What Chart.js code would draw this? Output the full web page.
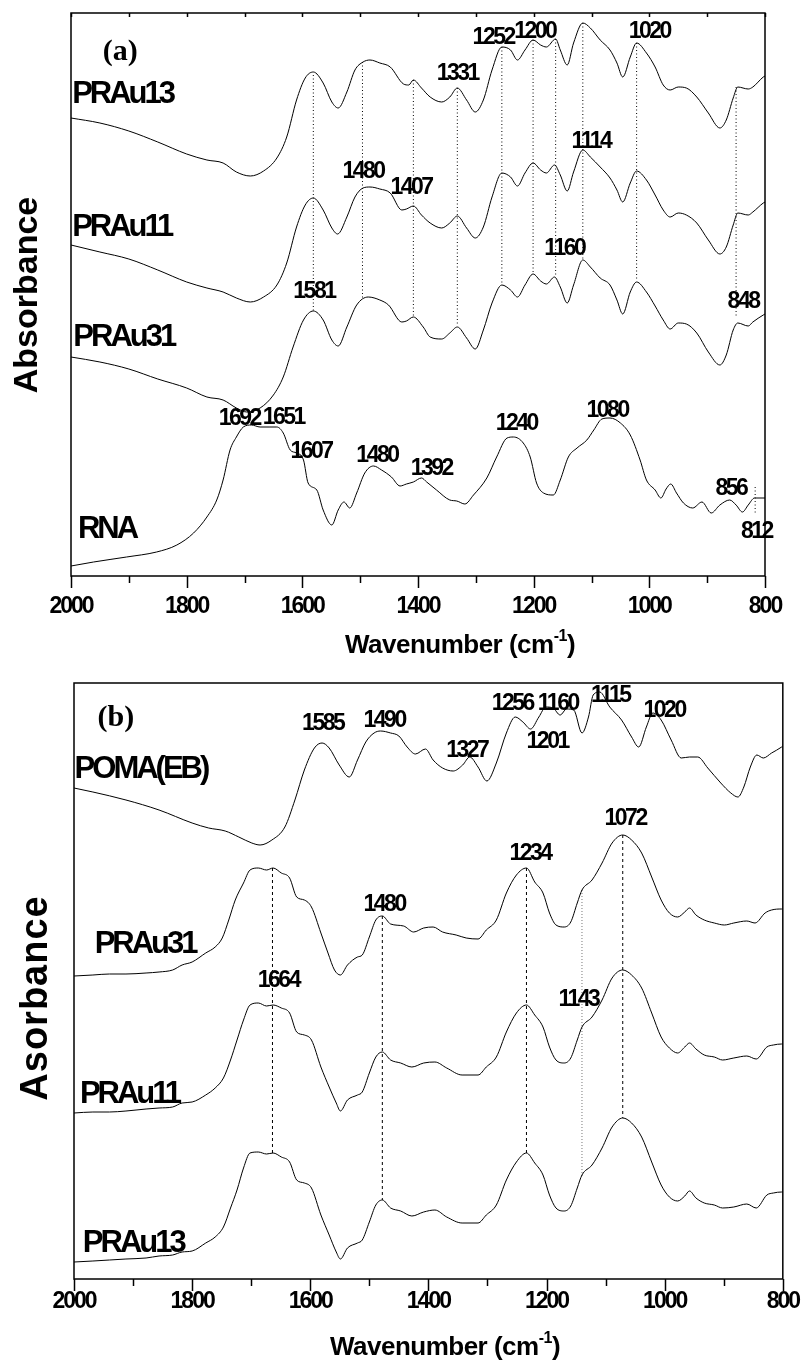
<!DOCTYPE html>
<html>
<head>
<meta charset="utf-8">
<script src="https://cdn.jsdelivr.net/npm/chart.js@4.4.0/dist/chart.umd.min.js"></script>
<style>
  html, body { margin: 0; padding: 0; background: #fff; }
  #boxA { position: absolute; left: 0; top: 0; width: 811px; height: 680px; }
  #boxB { position: absolute; left: 0; top: 680px; width: 811px; height: 684px; }
</style>
</head>
<body>
<div id="boxA"><canvas id="chartA" width="811" height="680"></canvas></div>
<div id="boxB"><canvas id="chartB" width="811" height="684"></canvas></div>
<script>
const FONT = '"Liberation Sans", Arial, Helvetica, sans-serif'
const SERIF = '"Liberation Serif", "Times New Roman", serif'

const wnTicks = [2000, 1800, 1600, 1400, 1200, 1000, 800]

// (a) spectra: [wavenumber, absorbance (a.u., stacked)]
const praU13A = [[2000,4.58],[1950,4.53],[1900,4.45],[1850,4.34],[1800,4.22],[1765,4.16],[1737,4.13],[1714,4.04],[1690,4.00],[1667,4.05],[1644,4.18],[1627,4.39],[1610,4.76],[1595,4.98],[1581,5.04],[1564,4.93],[1549,4.74],[1538,4.68],[1523,4.84],[1509,5.06],[1495,5.14],[1483,5.16],[1466,5.13],[1448,5.09],[1425,4.92],[1416,4.91],[1408,4.96],[1394,4.88],[1379,4.79],[1359,4.74],[1345,4.79],[1332,4.88],[1316,4.76],[1301,4.64],[1287,4.76],[1272,5.06],[1255,5.29],[1240,5.26],[1228,5.16],[1215,5.26],[1201,5.36],[1188,5.31],[1178,5.29],[1162,5.37],[1154,5.26],[1142,5.11],[1131,5.33],[1115,5.53],[1102,5.48],[1085,5.36],[1068,5.26],[1056,5.13],[1046,4.99],[1033,5.19],[1022,5.33],[1005,5.23],[990,5.09],[976,4.91],[964,4.86],[950,4.89],[936,4.88],[918,4.79],[898,4.63],[878,4.48],[867,4.56],[855,4.78],[847,4.89],[829,4.87],[821,4.89],[803,4.99],[800,5.00]]
const praU11A = [[2000,3.31],[1950,3.24],[1900,3.17],[1850,3.06],[1800,2.94],[1765,2.88],[1737,2.84],[1714,2.78],[1690,2.74],[1667,2.79],[1644,2.91],[1627,3.13],[1610,3.49],[1595,3.71],[1581,3.78],[1564,3.66],[1549,3.48],[1539,3.42],[1523,3.59],[1509,3.79],[1495,3.88],[1483,3.89],[1466,3.87],[1448,3.83],[1428,3.66],[1420,3.67],[1408,3.70],[1394,3.61],[1379,3.53],[1359,3.48],[1345,3.53],[1332,3.60],[1316,3.48],[1301,3.38],[1287,3.49],[1272,3.79],[1255,4.03],[1240,3.99],[1228,3.90],[1215,4.03],[1201,4.13],[1188,4.06],[1178,4.03],[1164,4.11],[1154,4.01],[1142,3.85],[1131,4.04],[1115,4.26],[1102,4.19],[1085,4.09],[1068,3.98],[1056,3.86],[1046,3.74],[1033,3.93],[1022,4.05],[1005,3.96],[990,3.81],[976,3.66],[964,3.59],[950,3.63],[936,3.61],[918,3.53],[898,3.36],[878,3.22],[867,3.29],[855,3.51],[847,3.63],[829,3.61],[821,3.64],[803,3.73],[800,3.74]]
const praU31A = [[2000,2.19],[1950,2.14],[1900,2.07],[1850,1.97],[1800,1.88],[1765,1.79],[1737,1.76],[1714,1.68],[1696,1.64],[1673,1.68],[1650,1.81],[1633,1.99],[1616,2.29],[1598,2.56],[1581,2.65],[1564,2.56],[1549,2.36],[1538,2.30],[1523,2.49],[1506,2.71],[1486,2.79],[1466,2.76],[1451,2.71],[1428,2.54],[1420,2.55],[1408,2.59],[1391,2.49],[1379,2.39],[1359,2.37],[1345,2.43],[1332,2.49],[1316,2.38],[1301,2.27],[1287,2.46],[1272,2.73],[1255,2.91],[1240,2.86],[1228,2.79],[1215,2.91],[1201,3.02],[1188,2.95],[1178,2.92],[1164,2.99],[1154,2.89],[1142,2.73],[1131,2.91],[1115,3.16],[1102,3.09],[1085,2.98],[1068,2.91],[1056,2.76],[1046,2.62],[1033,2.84],[1022,2.94],[1005,2.84],[990,2.70],[976,2.56],[964,2.47],[950,2.53],[936,2.52],[918,2.43],[898,2.24],[878,2.11],[867,2.21],[855,2.46],[847,2.53],[829,2.50],[821,2.54],[803,2.61],[800,2.62]]
const rnaA = [[2000,0.10],[1961,0.14],[1904,0.19],[1852,0.24],[1817,0.31],[1788,0.43],[1765,0.59],[1748,0.76],[1737,0.96],[1725,1.26],[1714,1.39],[1702,1.49],[1688,1.51],[1673,1.49],[1656,1.49],[1644,1.49],[1633,1.43],[1621,1.26],[1610,1.23],[1598,1.16],[1590,0.93],[1575,0.86],[1564,0.66],[1549,0.51],[1538,0.66],[1528,0.74],[1518,0.68],[1506,0.83],[1492,1.03],[1477,1.10],[1463,1.06],[1446,0.99],[1431,0.90],[1420,0.92],[1408,0.94],[1394,0.98],[1385,0.94],[1368,0.86],[1345,0.76],[1333,0.75],[1319,0.72],[1304,0.81],[1281,0.98],[1264,1.19],[1246,1.38],[1235,1.39],[1218,1.33],[1206,1.19],[1195,0.93],[1183,0.83],[1166,0.81],[1154,0.96],[1140,1.19],[1125,1.28],[1108,1.36],[1096,1.46],[1082,1.57],[1068,1.58],[1050,1.53],[1033,1.41],[1016,1.16],[1005,0.96],[990,0.86],[980,0.78],[971,0.87],[963,0.92],[953,0.83],[941,0.73],[925,0.68],[909,0.74],[893,0.63],[878,0.71],[861,0.76],[850,0.71],[839,0.64],[829,0.71],[818,0.78],[800,0.78]]

// (b) spectra
const pomaB = [[2000,4.91],[1968,4.87],[1912,4.79],[1856,4.69],[1800,4.56],[1772,4.51],[1744,4.48],[1721,4.42],[1699,4.36],[1685,4.34],[1665,4.39],[1643,4.52],[1626,4.79],[1610,5.09],[1593,5.31],[1580,5.36],[1568,5.31],[1551,5.14],[1534,5.02],[1520,5.19],[1506,5.37],[1492,5.46],[1481,5.48],[1464,5.46],[1450,5.43],[1436,5.32],[1422,5.25],[1405,5.30],[1392,5.19],[1376,5.11],[1358,5.08],[1342,5.14],[1330,5.22],[1316,5.12],[1301,4.98],[1285,5.16],[1268,5.46],[1253,5.62],[1240,5.57],[1227,5.50],[1213,5.62],[1201,5.72],[1189,5.71],[1177,5.64],[1166,5.70],[1154,5.69],[1140,5.46],[1129,5.62],[1121,5.84],[1110,5.87],[1093,5.72],[1073,5.59],[1056,5.42],[1044,5.32],[1031,5.52],[1020,5.66],[1006,5.59],[989,5.39],[972,5.21],[958,5.22],[944,5.22],[927,5.11],[905,4.96],[888,4.86],[876,4.82],[866,4.92],[855,5.12],[844,5.24],[833,5.21],[819,5.26],[802,5.32],[800,5.33]]
const praU31B = [[2000,3.03],[1968,3.04],[1940,3.05],[1912,3.05],[1878,3.06],[1856,3.07],[1833,3.09],[1817,3.14],[1800,3.17],[1777,3.26],[1761,3.32],[1749,3.41],[1738,3.59],[1727,3.79],[1713,3.96],[1702,4.09],[1688,4.11],[1674,4.09],[1663,4.11],[1649,4.06],[1635,4.01],[1623,3.82],[1610,3.79],[1598,3.72],[1582,3.46],[1570,3.26],[1559,3.09],[1549,3.04],[1537,3.14],[1520,3.22],[1512,3.24],[1500,3.42],[1489,3.59],[1478,3.63],[1464,3.55],[1442,3.53],[1425,3.47],[1408,3.51],[1392,3.52],[1376,3.47],[1353,3.44],[1336,3.41],[1316,3.40],[1302,3.49],[1285,3.59],[1268,3.86],[1251,4.04],[1234,4.11],[1220,3.97],[1206,3.86],[1195,3.66],[1184,3.54],[1170,3.52],[1159,3.57],[1148,3.76],[1140,3.89],[1123,3.99],[1106,4.16],[1089,4.36],[1071,4.44],[1056,4.39],[1039,4.26],[1022,4.02],[1006,3.79],[992,3.66],[978,3.62],[966,3.67],[958,3.71],[947,3.64],[933,3.59],[916,3.56],[899,3.54],[883,3.56],[861,3.58],[847,3.56],[830,3.66],[819,3.69],[802,3.70],[800,3.70]]
const praU11B = [[2000,1.66],[1968,1.67],[1940,1.67],[1912,1.68],[1878,1.70],[1856,1.71],[1833,1.72],[1817,1.76],[1800,1.77],[1777,1.84],[1761,1.91],[1747,2.01],[1735,2.19],[1724,2.39],[1713,2.59],[1702,2.74],[1688,2.76],[1674,2.73],[1663,2.74],[1649,2.71],[1635,2.66],[1623,2.47],[1610,2.44],[1598,2.39],[1582,2.12],[1568,1.92],[1556,1.76],[1549,1.68],[1537,1.79],[1520,1.84],[1512,1.87],[1500,2.06],[1489,2.22],[1478,2.27],[1464,2.19],[1447,2.16],[1428,2.12],[1408,2.16],[1389,2.17],[1369,2.11],[1343,2.04],[1316,2.04],[1302,2.12],[1285,2.22],[1268,2.47],[1251,2.66],[1234,2.74],[1220,2.64],[1206,2.52],[1195,2.32],[1184,2.19],[1170,2.16],[1159,2.21],[1148,2.39],[1140,2.52],[1123,2.62],[1106,2.79],[1089,3.01],[1071,3.09],[1056,3.04],[1039,2.91],[1022,2.66],[1006,2.42],[992,2.31],[978,2.26],[966,2.32],[958,2.36],[947,2.30],[933,2.24],[916,2.22],[902,2.19],[883,2.21],[861,2.23],[845,2.20],[827,2.32],[816,2.34],[802,2.35],[800,2.35]]
const praU13B = [[2000,0.17],[1968,0.18],[1940,0.19],[1912,0.20],[1878,0.21],[1856,0.23],[1833,0.24],[1817,0.27],[1800,0.28],[1777,0.36],[1761,0.42],[1747,0.52],[1735,0.71],[1724,0.89],[1713,1.11],[1702,1.26],[1688,1.27],[1674,1.25],[1663,1.26],[1649,1.22],[1635,1.17],[1623,0.99],[1610,0.96],[1598,0.91],[1582,0.64],[1568,0.44],[1556,0.27],[1549,0.20],[1537,0.31],[1520,0.36],[1512,0.39],[1500,0.57],[1489,0.74],[1478,0.79],[1464,0.71],[1447,0.68],[1428,0.63],[1408,0.67],[1389,0.69],[1369,0.62],[1343,0.56],[1316,0.56],[1302,0.64],[1285,0.74],[1268,0.99],[1251,1.17],[1234,1.26],[1220,1.16],[1206,1.04],[1195,0.84],[1184,0.71],[1170,0.68],[1159,0.73],[1148,0.91],[1140,1.04],[1123,1.14],[1106,1.31],[1089,1.52],[1071,1.61],[1056,1.56],[1039,1.42],[1022,1.17],[1006,0.94],[992,0.82],[978,0.78],[966,0.83],[958,0.88],[947,0.81],[933,0.76],[916,0.74],[902,0.71],[883,0.72],[861,0.75],[845,0.71],[827,0.84],[816,0.86],[802,0.87],[800,0.87]]

// guide lines: [wavenumber, upper absorbance, lower absorbance]
const guidesA = [[1581,5.01,2.65],[1496,5.14,2.78],[1408,4.96,2.60],[1332,4.88,2.51],[1255,5.29,2.91],[1201,5.36,3.02],[1162,5.37,2.99],[1115,5.53,3.16],[1022,5.33,2.96],[850,4.89,2.59],[817,0.89,0.63]]
const guidesB = [[1664,4.11,1.26],[1478,3.63,0.79],[1234,4.11,1.26],[1071,4.44,1.61]]
const shoulderB = [[1140,3.89,1.02]]

// peak labels: [text, wavenumber, absorbance] (text centre)
const peakLabelsA = [['1331',1332,5.02],['1252',1270,5.38],['1200',1198,5.44],['1020',1000,5.44],['1480',1495,4.04],['1407',1412,3.88],['1114',1101,4.34],['1581',1580,2.84],['1160',1147,3.27],['848',838,2.74],['1692',1709,1.57],['1651',1633,1.58],['1607',1585,1.24],['1480',1471,1.20],['1392',1377,1.07],['1240',1230,1.52],['1080',1073,1.65],['856',859,0.87],['812',815,0.44]]
const peakLabelsB = [['1585',1579,5.55],['1490',1475,5.58],['1327',1335,5.28],['1256',1258,5.75],['1160',1181,5.75],['1115',1092,5.83],['1020',1001,5.68],['1201',1199,5.37],['1072',1067,4.60],['1234',1228,4.25],['1480',1475,3.74],['1664',1654,2.98],['1143',1146,2.79]]

// sample names: [text, wavenumber, absorbance] (left end, baseline)
const namesA = [['PRAu13',1998,4.73],['PRAu11',1998,3.40],['PRAu31',1996,2.30],['RNA',1988,0.38]]
const namesB = [['POMA(EB)',1999,5.01],['PRAu31',1965,3.26],['PRAu11',1990,1.76],['PRAu13',1985,0.27]]

function spectrum(points) {
  return {
    data: points.map(p => ({ x: p[0], y: p[1] })),
    borderColor: '#000', borderWidth: 1, pointRadius: 0,
    cubicInterpolationMode: 'monotone', fill: false
  }
}

function guide(g, color, dash) {
  return {
    data: [{ x: g[0], y: g[1] }, { x: g[0], y: g[2] }],
    borderColor: color, borderWidth: 1, borderDash: dash, pointRadius: 0
  }
}

function text(ctx, s, px, py, font, align, baseline, spacing) {
  ctx.font = font
  ctx.letterSpacing = spacing + 'px'
  ctx.textAlign = align
  ctx.textBaseline = baseline
  ctx.fillText(s, px, py)
}

const decor = {
  id: 'decor',
  beforeDraw(chart) {
    chart.ctx.letterSpacing = '-2px'
  },
  afterDraw(chart, args, o) {
    const { ctx, chartArea: a, scales: { x, y } } = chart
    ctx.save()
    ctx.fillStyle = '#000'
    ctx.strokeStyle = '#000'
    ctx.lineWidth = 1.5
    ctx.strokeRect(a.left, a.top, a.right - a.left, a.bottom - a.top)
    for (let w = 800; w <= 2000; w += 100) {
      const px = Math.round(x.getPixelForValue(w)) + 0.5
      const len = w % 200 === 0 ? 12 : 7
      ctx.beginPath()
      ctx.moveTo(px, a.bottom)
      ctx.lineTo(px, a.bottom + len)
      if (o.topTicks) {
        ctx.moveTo(px, a.top)
        ctx.lineTo(px, a.top + 4)
      }
      ctx.stroke()
    }

    o.peaks.forEach(p => text(ctx, p[0], x.getPixelForValue(p[1]), y.getPixelForValue(p[2]),
      `bold 23px ${FONT}`, 'center', 'middle', -2.5))
    o.names.forEach(n => text(ctx, n[0], x.getPixelForValue(n[1]), y.getPixelForValue(n[2]),
      `bold 31px ${FONT}`, 'left', 'alphabetic', -3))
    text(ctx, o.panel[0], x.getPixelForValue(o.panel[1]), y.getPixelForValue(o.panel[2]),
      `bold 30px ${SERIF}`, 'center', 'middle', 0)

    // x title with superscript
    ctx.letterSpacing = '-0.5px'
    ctx.textBaseline = 'alphabetic'
    ctx.textAlign = 'left'
    ctx.font = `bold 26px ${FONT}`
    const w1 = ctx.measureText('Wavenumber (cm').width
    const w3 = ctx.measureText(')').width
    ctx.font = `bold 16px ${FONT}`
    const w2 = ctx.measureText('-1').width
    const left = o.xTitle[0] - (w1 + w2 + w3) / 2
    ctx.font = `bold 26px ${FONT}`
    ctx.fillText('Wavenumber (cm', left, o.xTitle[1])
    ctx.font = `bold 16px ${FONT}`
    ctx.fillText('-1', left + w1, o.xTitle[1] - 12)
    ctx.font = `bold 26px ${FONT}`
    ctx.fillText(')', left + w1 + w2, o.xTitle[1])

    // y title
    ctx.translate(o.yTitle[1], o.yTitle[2])
    ctx.rotate(-Math.PI / 2)
    text(ctx, o.yTitle[0], 0, 0, `bold ${o.yTitle[3]}px ${FONT}`, 'center', 'middle', o.yTitle[4])
    ctx.restore()
  }
}

function makeChart(id, spectra, guides, yMax, pad, xHeight, yWidth, tickPad, extra) {
  const datasets = spectra.map(spectrum).concat(guides)
  return new Chart(document.getElementById(id), {
    type: 'line',
    data: { datasets },
    options: {
      responsive: false,
      animation: false,
      devicePixelRatio: 1,
      layout: { padding: pad },
      plugins: { legend: { display: false }, tooltip: { enabled: false }, decor: extra },
      scales: {
        x: {
          type: 'linear', reverse: true, min: 800, max: 2000,
          afterBuildTicks: s => { s.ticks = wnTicks.map(v => ({ value: v })) },
          ticks: {
            color: '#000', padding: tickPad,
            font: { family: FONT, size: 23, weight: 'bold' },
            callback: v => String(v)
          },
          grid: { display: false, drawTicks: false },
          border: { display: false },
          afterFit: s => { s.height = xHeight }
        },
        y: {
          min: 0, max: yMax,
          ticks: { display: false },
          grid: { display: false, drawTicks: false },
          border: { display: false },
          afterFit: s => { s.width = yWidth }
        }
      }
    },
    plugins: [decor]
  })
}

makeChart('chartA', [praU13A, praU11A, praU31A, rnaA],
  guidesA.map(g => guide(g, '#000', [1, 2.5])),
  5.63, { left: 0, top: 13, right: 46, bottom: 0 }, 104, 71, 17,
  { peaks: peakLabelsA, names: namesA, panel: ['(a)', 1915, 5.24], topTicks: true,
    xTitle: [460, 653], yTitle: ['Absorbance', 28, 295, 34, 0] })

makeChart('chartB', [pomaB, praU31B, praU11B, praU13B],
  guidesB.map(g => guide(g, '#000', [3, 3])).concat(shoulderB.map(g => guide(g, '#777', [1, 2]))),
  5.96, { left: 0, top: 3, right: 22, bottom: 0 }, 85, 74, 9,
  { peaks: peakLabelsB, names: namesB, panel: ['(b)', 1929, 5.61], topTicks: false,
    xTitle: [445, 675], yTitle: ['Asorbance', 37, 318, 38, 1] })
</script>
</body>
</html>
